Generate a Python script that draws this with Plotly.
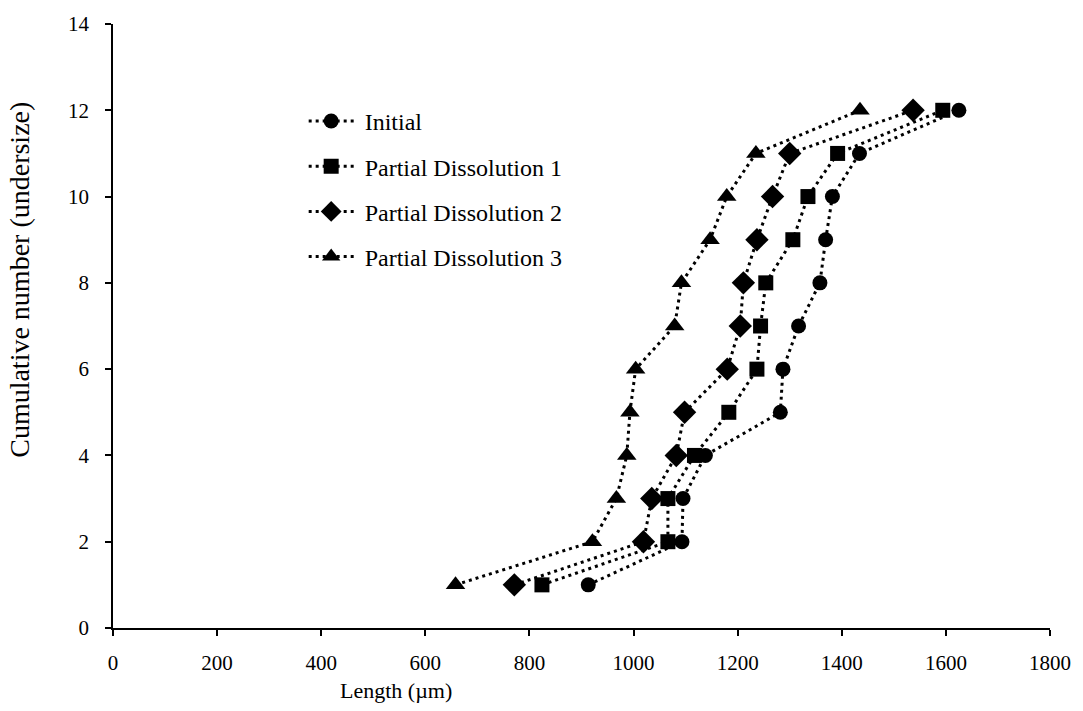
import plotly.graph_objects as go

# Cumulative number of crystals (undersize) vs. crystal length
cumulative = [1, 2, 3, 4, 5, 6, 7, 8, 9, 10, 11, 12]

initial = [913, 1093, 1095, 1138, 1282, 1287, 1317, 1358, 1369, 1382, 1434, 1625]
partial_1 = [824, 1066, 1066, 1117, 1183, 1237, 1244, 1254, 1306, 1335, 1392, 1594]
partial_2 = [771, 1019, 1035, 1082, 1098, 1180, 1205, 1211, 1237, 1267, 1300, 1537]
partial_3 = [658, 921, 967, 987, 993, 1004, 1079, 1092, 1147, 1179, 1235, 1435]

series = [
    ("Initial", initial, "circle", 15),
    ("Partial Dissolution 1", partial_1, "square", 15),
    ("Partial Dissolution 2", partial_2, "diamond", 18),
    ("Partial Dissolution 3", partial_3, "triangle-up", 17),
]

FONT = "Liberation Serif, Times New Roman, serif"

fig = go.Figure()
for i, (name, lengths, symbol, size) in enumerate(series):
    fig.add_trace(go.Scatter(
        x=lengths, y=cumulative, name="\u00a0" + name, mode="lines+markers",
        legendgroup=f"g{i}",
        line=dict(color="black", width=3, dash="3px,4px"),
        marker=dict(symbol=symbol, size=size, color="black"),
    ))

axis_common = dict(
    showline=True, linecolor="black", linewidth=1.5,
    ticks="outside", ticklen=6, tickwidth=1.5, tickcolor="black",
    showgrid=False, zeroline=False,
    tickfont=dict(family=FONT, size=21, color="black"),
)

fig.update_layout(
    width=1083, height=711,
    margin=dict(l=113, r=28, t=20, b=83),
    paper_bgcolor="white", plot_bgcolor="white",
    font=dict(family=FONT, color="black"),
    xaxis=dict(range=[0, 1800], dtick=200, ticklabelstandoff=9, **axis_common),
    yaxis=dict(range=[0, 14], dtick=2, ticklabelstandoff=12, **axis_common),
    legend=dict(
        x=0.2035, y=0.876, xanchor="left", yanchor="top",
        bgcolor="rgba(0,0,0,0)", borderwidth=0,
        font=dict(family=FONT, size=24, color="black"),
        itemwidth=45, tracegroupgap=11,
    ),
    annotations=[
        dict(text="Length (µm)", xref="paper", yref="paper",
             x=0.3015, y=-0.1036, xanchor="center", yanchor="middle",
             showarrow=False, font=dict(family=FONT, size=22, color="black")),
        dict(text="Cumulative number (undersize)", xref="paper", yref="paper",
             x=-0.1, y=0.577, xanchor="center", yanchor="middle", textangle=-90,
             showarrow=False, font=dict(family=FONT, size=28, color="black")),
    ],
)

fig.write_html("out.html")
